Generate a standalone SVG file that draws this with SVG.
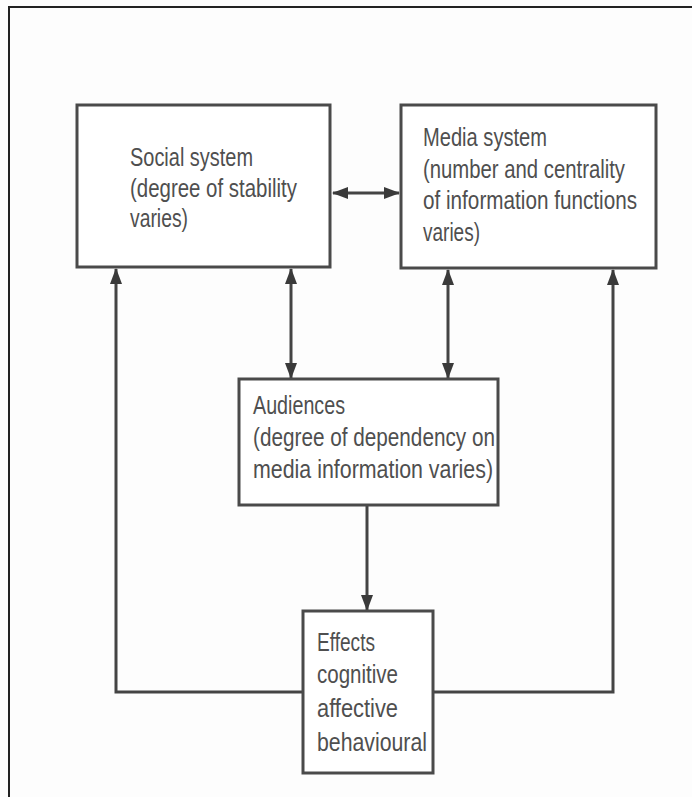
<svg xmlns="http://www.w3.org/2000/svg" width="692" height="797" viewBox="0 0 692 797">
<style>
.box{fill:#ffffff;stroke:#4a4a4a;stroke-width:3}
.t{font-family:"Liberation Sans",Arial,sans-serif;font-size:26px;fill:#4f4f4f}
.c{fill:none;stroke:#444444;stroke-width:3}
</style>
<defs>
<marker id="ah" viewBox="0 0 16 12" refX="15" refY="6" markerWidth="16" markerHeight="12" markerUnits="userSpaceOnUse" orient="auto-start-reverse">
<path d="M0,0 L16,6 L0,12 Z" fill="#3a3a3a"/>
</marker>
</defs>
<rect x="0" y="0" width="692" height="797" fill="#fdfdfd"/>
<path d="M9,797 L9,7 L692,7" fill="none" stroke="#222222" stroke-width="2"/>
<g id="connectors">
<line class="c" x1="333" y1="193" x2="399" y2="193" marker-start="url(#ah)" marker-end="url(#ah)"/>
<line class="c" x1="291" y1="269" x2="291" y2="378" marker-start="url(#ah)" marker-end="url(#ah)"/>
<line class="c" x1="448" y1="270" x2="448" y2="378" marker-start="url(#ah)" marker-end="url(#ah)"/>
<line class="c" x1="367" y1="506" x2="367" y2="610" marker-end="url(#ah)"/>
<polyline class="c" points="303,692 116,692 116,269" marker-end="url(#ah)"/>
<polyline class="c" points="433,692 613,692 613,270" marker-end="url(#ah)"/>
</g>
<g id="social">
<rect class="box" x="77" y="105" width="253" height="162"/>
<text class="t" x="130" y="166" textLength="123" lengthAdjust="spacingAndGlyphs">Social system</text>
<text class="t" x="130" y="197" textLength="167" lengthAdjust="spacingAndGlyphs">(degree of stability</text>
<text class="t" x="130" y="227" textLength="58" lengthAdjust="spacingAndGlyphs">varies)</text>
</g>
<g id="media">
<rect class="box" x="401" y="105" width="255" height="163"/>
<text class="t" x="423" y="146" textLength="124" lengthAdjust="spacingAndGlyphs">Media system</text>
<text class="t" x="423" y="178" textLength="202" lengthAdjust="spacingAndGlyphs">(number and centrality</text>
<text class="t" x="423" y="209" textLength="214" lengthAdjust="spacingAndGlyphs">of information functions</text>
<text class="t" x="423" y="241" textLength="57" lengthAdjust="spacingAndGlyphs">varies)</text>
</g>
<g id="audiences">
<rect class="box" x="239" y="379" width="259" height="126"/>
<text class="t" x="253" y="414" textLength="92" lengthAdjust="spacingAndGlyphs">Audiences</text>
<text class="t" x="253" y="446" textLength="242" lengthAdjust="spacingAndGlyphs">(degree of dependency on</text>
<text class="t" x="253" y="478" textLength="240" lengthAdjust="spacingAndGlyphs">media information varies)</text>
</g>
<g id="effects">
<rect class="box" x="303" y="611" width="130" height="162"/>
<text class="t" x="317" y="651" textLength="58" lengthAdjust="spacingAndGlyphs">Effects</text>
<text class="t" x="317" y="683" textLength="81" lengthAdjust="spacingAndGlyphs">cognitive</text>
<text class="t" x="317" y="717" textLength="81" lengthAdjust="spacingAndGlyphs">affective</text>
<text class="t" x="317" y="751" textLength="110" lengthAdjust="spacingAndGlyphs">behavioural</text>
</g>
</svg>
